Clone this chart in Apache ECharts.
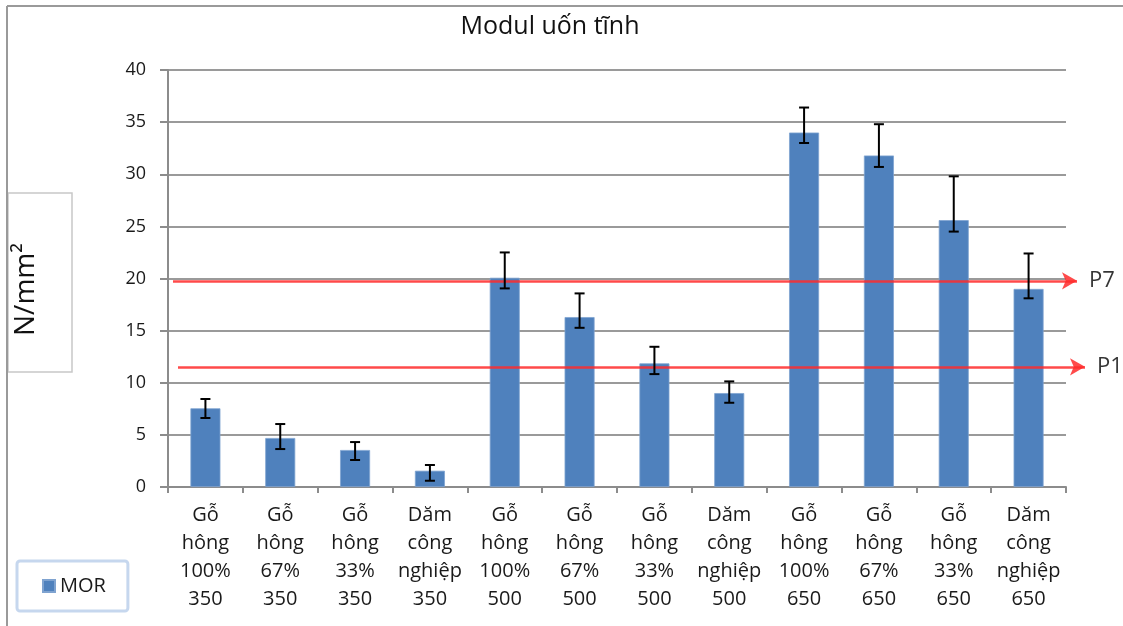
<!DOCTYPE html>
<html>
<head>
<meta charset="utf-8">
<script src="https://cdn.jsdelivr.net/npm/echarts@6/dist/echarts.min.js"></script>
<style>
html,body{margin:0;padding:0;background:#fff;}
#c{width:1123px;height:626px;}
</style>
</head>
<body>
<div id="c"></div>
<script>
const categories = [
  'Gỗ\nhông\n100%\n350', 'Gỗ\nhông\n67%\n350', 'Gỗ\nhông\n33%\n350', 'Dăm\ncông\nnghiệp\n350',
  'Gỗ\nhông\n100%\n500', 'Gỗ\nhông\n67%\n500', 'Gỗ\nhông\n33%\n500', 'Dăm\ncông\nnghiệp\n500',
  'Gỗ\nhông\n100%\n650', 'Gỗ\nhông\n67%\n650', 'Gỗ\nhông\n33%\n650', 'Dăm\ncông\nnghiệp\n650'
];
const morValues = [7.55, 4.7, 3.55, 1.56, 20.07, 16.3, 11.86, 9.01, 34.0, 31.8, 25.6, 19.0];
const errLow    = [6.62, 3.64, 2.59, 0.6, 19.05, 15.27, 10.83, 8.08, 33.0, 30.7, 24.5, 18.1];
const errHigh   = [8.44, 6.04, 4.31, 2.11, 22.5, 18.57, 13.45, 10.13, 36.4, 34.8, 29.8, 22.4];
const refLines = [
  { name: 'P7', value: 19.78 },
  { name: 'P1', value: 11.53 }
];
const yTicks = { min: 0, max: 40, interval: 5 };

const FONT = '"Open Sans", Lato, sans-serif';
const chart = echarts.init(document.getElementById('c'), null, { renderer: 'canvas' });

const errData = categories.map((c, i) => [i, errLow[i], errHigh[i]]);

chart.setOption({
  animation: false,
  backgroundColor: '#fff',
  title: {
    text: 'Modul uốn tĩnh',
    left: 545, top: 9, textAlign: 'center',
    textStyle: { fontFamily: FONT, fontSize: 25, fontWeight: 'normal', color: '#111' }
  },
  legend: {
    data: ['MOR'],
    left: 17, top: 561,
    icon: 'rect', itemWidth: 12, itemHeight: 12, itemGap: 6,
    padding: [15, 22, 15, 25],
    borderColor: '#c6d7ee', borderWidth: 3, borderRadius: 3,
    textStyle: { fontFamily: FONT, fontSize: 20, color: '#1a1a1a' }
  },
  grid: { left: 168, right: 57, top: 70, bottom: 139, containLabel: false },
  xAxis: {
    type: 'category',
    data: categories,
    axisLine: { lineStyle: { color: '#8c8c8c', width: 2 } },
    axisTick: { show: true, length: 6, lineStyle: { color: '#8c8c8c', width: 2 } },
    axisLabel: {
      interval: 0, margin: 14,
      fontFamily: FONT, fontSize: 20, lineHeight: 28, color: '#1a1a1a', align: 'center'
    },
    splitLine: { show: false }
  },
  yAxis: {
    type: 'value',
    min: yTicks.min, max: yTicks.max, interval: yTicks.interval,
    name: 'N/mm²',
    nameLocation: 'middle',
    nameGap: 128,
    nameRotate: 90,
    nameTextStyle: { fontFamily: FONT, fontSize: 28, color: '#111', padding: [0, 22, 0, 0] },
    axisLine: { show: true, lineStyle: { color: '#8c8c8c', width: 2 } },
    axisTick: { show: true, length: 8, lineStyle: { color: '#8c8c8c', width: 2 } },
    axisLabel: { margin: 22, fontFamily: FONT, fontSize: 18, color: '#1a1a1a' },
    splitLine: { show: true, lineStyle: { color: '#9a9a9a', width: 2 } }
  },
  series: [
    {
      name: 'MOR',
      type: 'bar',
      data: morValues,
      barWidth: 30,
      itemStyle: { color: '#4f81bd', borderColor: '#7fa3d0', borderWidth: 0.8 },
      markLine: {
        silent: true,
        symbol: ['none', 'arrow'],
        symbolSize: [13, 15],
        lineStyle: { color: '#ff2a2a', width: 2.5, type: 'solid', opacity: 0.85 },
        label: {
          show: true, position: 'end', distance: 12,
          fontFamily: FONT, fontSize: 22, color: '#111'
        },
        data: [
          [
            { x: 173, yAxis: refLines[0].value, symbol: 'none' },
            { x: 1077, yAxis: refLines[0].value, label: { formatter: refLines[0].name, padding: [0, 0, 26, 0] } }
          ],
          [
            { x: 178, yAxis: refLines[1].value, symbol: 'none' },
            { x: 1085, yAxis: refLines[1].value, label: { formatter: refLines[1].name, padding: [0, 0, 10, 0] } }
          ]
        ]
      },
      z: 2
    },
    {
      name: 'err',
      type: 'custom',
      data: errData,
      encode: { x: 0, y: [1, 2] },
      z: 5,
      renderItem: function (params, api) {
        const xi = api.value(0);
        const lo = api.coord([xi, api.value(1)]);
        const hi = api.coord([xi, api.value(2)]);
        const w = 5;
        const st = { stroke: '#000', lineWidth: 2 };
        return {
          type: 'group',
          children: [
            { type: 'line', shape: { x1: hi[0], y1: hi[1], x2: lo[0], y2: lo[1] }, style: st },
            { type: 'line', shape: { x1: hi[0] - w, y1: hi[1], x2: hi[0] + w, y2: hi[1] }, style: st },
            { type: 'line', shape: { x1: lo[0] - w, y1: lo[1], x2: lo[0] + w, y2: lo[1] }, style: st }
          ]
        };
      }
    }
  ],
  graphic: [
    { type: 'line', shape: { x1: 7, y1: 6, x2: 1123, y2: 6 }, style: { stroke: '#9a9a9a', lineWidth: 2 }, z: 100 },
    { type: 'line', shape: { x1: 7, y1: 6, x2: 7, y2: 626 }, style: { stroke: '#9a9a9a', lineWidth: 2 }, z: 100 },
    { type: 'rect', shape: { x: 8, y: 193, width: 64, height: 179 }, style: { fill: 'none', stroke: '#c8c8c8', lineWidth: 1.5 }, z: 1 }
  ]
});
</script>
</body>
</html>
